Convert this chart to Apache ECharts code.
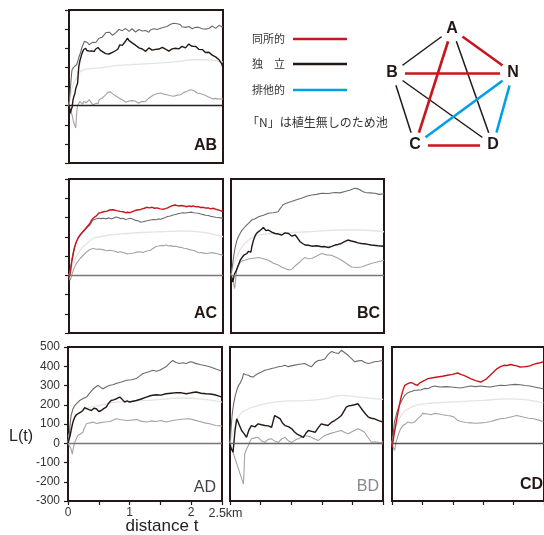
<!DOCTYPE html>
<html><head><meta charset="utf-8">
<script src="https://cdn.jsdelivr.net/npm/echarts@6/dist/echarts.min.js"></script>
<style>html,body{margin:0;padding:0;background:#fff}#c{width:544px;height:535px}</style>
</head><body><div id="c"></div>
<script>
// ---- data: [distance t (km), L(t)] ----
const AB_obs=[[0,0],[0.02,-40],[0.035,-22],[0.05,-10],[0.065,30],[0.08,49],[0.095,62],[0.11,90],[0.125,100],[0.14,118],[0.15,170],[0.16,205],[0.175,232],[0.19,250],[0.205,268],[0.22,275],[0.235,292],[0.25,290],[0.26,302],[0.27,300],[0.29,288],[0.31,296],[0.33,285],[0.35,292],[0.365,286],[0.38,280],[0.395,290],[0.41,283],[0.43,295],[0.45,292],[0.47,304],[0.49,300],[0.51,289],[0.53,290],[0.55,281],[0.57,283],[0.595,272],[0.62,276],[0.65,270],[0.68,266],[0.705,278],[0.73,275],[0.755,287],[0.78,283],[0.795,296],[0.81,305],[0.825,318],[0.84,327],[0.865,315],[0.89,320],[0.92,338],[0.95,353],[0.975,340],[1.0,336],[1.025,328],[1.05,325],[1.08,316],[1.11,310],[1.135,302],[1.16,305],[1.19,296],[1.22,300],[1.245,284],[1.27,290],[1.295,302],[1.32,300],[1.35,290],[1.38,296],[1.405,294],[1.43,287],[1.46,296],[1.49,292],[1.515,305],[1.54,300],[1.565,296],[1.59,300],[1.62,285],[1.65,288],[1.675,297],[1.70,292],[1.73,300],[1.76,305],[1.785,297],[1.81,300],[1.835,310],[1.86,306],[1.89,302],[1.92,310],[1.945,322],[1.97,318],[1.985,312],[2.0,315],[2.02,310],[2.04,305],[2.06,309],[2.08,300],[2.11,294],[2.14,290],[2.165,293],[2.19,283],[2.215,278],[2.24,288],[2.27,279],[2.30,275],[2.325,264],[2.35,268],[2.38,255],[2.41,249],[2.435,240],[2.46,235],[2.48,218],[2.5,197]];
const AB_up=[[0,0],[0.015,60],[0.03,120],[0.04,160],[0.05,188],[0.075,200],[0.10,205],[0.125,215],[0.15,240],[0.17,262],[0.19,280],[0.205,300],[0.22,310],[0.235,325],[0.25,336],[0.275,338],[0.30,330],[0.325,318],[0.35,322],[0.38,331],[0.41,327],[0.435,330],[0.46,340],[0.485,352],[0.51,362],[0.54,358],[0.57,370],[0.6,382],[0.625,375],[0.655,384],[0.68,379],[0.705,368],[0.73,372],[0.755,380],[0.78,388],[0.81,398],[0.84,405],[0.865,392],[0.89,395],[0.92,403],[0.95,397],[0.975,388],[1.0,392],[1.025,402],[1.05,398],[1.08,385],[1.11,388],[1.135,398],[1.16,395],[1.19,390],[1.22,397],[1.245,393],[1.27,390],[1.295,384],[1.32,395],[1.35,398],[1.38,402],[1.405,395],[1.43,398],[1.46,407],[1.49,405],[1.515,400],[1.54,410],[1.565,418],[1.59,414],[1.62,420],[1.65,425],[1.675,433],[1.70,431],[1.73,425],[1.76,428],[1.785,420],[1.81,423],[1.835,412],[1.86,415],[1.89,409],[1.92,405],[1.945,414],[1.97,410],[2.0,402],[2.03,397],[2.055,410],[2.08,405],[2.11,409],[2.14,414],[2.165,402],[2.19,406],[2.215,400],[2.24,397],[2.27,403],[2.30,405],[2.325,416],[2.35,414],[2.38,404],[2.41,410],[2.435,420],[2.46,418],[2.48,412],[2.5,414]];
const AB_mean=[[0,0],[0.04,80],[0.08,118],[0.14,153],[0.19,179],[0.3,192],[0.5,197],[0.8,210],[1.0,214],[1.3,220],[1.5,223],[1.8,232],[2.0,240],[2.2,240],[2.35,236],[2.5,228]];
const AB_low=[[0,0],[0.02,-15],[0.04,-40],[0.055,-55],[0.07,-80],[0.09,-100],[0.11,-117],[0.12,-60],[0.13,-20],[0.14,0],[0.15,10],[0.175,22],[0.2,20],[0.22,8],[0.24,23],[0.26,28],[0.28,15],[0.305,22],[0.33,31],[0.355,18],[0.38,10],[0.395,3],[0.41,0],[0.435,12],[0.46,20],[0.475,12],[0.49,31],[0.515,36],[0.54,40],[0.555,45],[0.57,49],[0.595,56],[0.62,60],[0.635,70],[0.65,75],[0.675,72],[0.7,68],[0.715,60],[0.73,57],[0.755,52],[0.78,50],[0.81,40],[0.84,31],[0.87,30],[0.9,22],[0.925,18],[0.95,14],[0.975,24],[1.0,18],[1.025,26],[1.05,31],[1.075,24],[1.1,20],[1.13,12],[1.16,14],[1.18,22],[1.2,25],[1.235,20],[1.27,31],[1.295,38],[1.32,45],[1.35,52],[1.38,57],[1.405,55],[1.43,62],[1.46,58],[1.49,66],[1.515,62],[1.54,60],[1.565,50],[1.59,57],[1.62,60],[1.65,52],[1.675,55],[1.70,49],[1.73,58],[1.76,55],[1.785,60],[1.81,57],[1.835,64],[1.86,68],[1.89,72],[1.92,75],[1.945,80],[1.97,83],[2.0,74],[2.03,78],[2.055,70],[2.08,66],[2.11,58],[2.14,62],[2.165,54],[2.19,57],[2.22,50],[2.25,48],[2.275,42],[2.3,40],[2.34,34],[2.38,38],[2.415,34],[2.45,36],[2.475,32],[2.5,35]];

const AC_obs=[[0,-10],[0.02,9],[0.045,70],[0.07,113],[0.095,150],[0.12,174],[0.15,195],[0.18,209],[0.205,220],[0.23,226],[0.255,238],[0.28,243],[0.31,258],[0.34,270],[0.365,285],[0.39,296],[0.42,304],[0.45,310],[0.465,318],[0.48,322],[0.52,325],[0.56,330],[0.59,328],[0.62,333],[0.64,337],[0.66,339],[0.69,334],[0.72,340],[0.745,337],[0.77,336],[0.80,328],[0.83,332],[0.855,326],[0.88,330],[0.915,325],[0.95,327],[0.97,321],[0.99,325],[1.02,330],[1.05,333],[1.075,336],[1.1,339],[1.145,340],[1.19,345],[1.225,348],[1.26,353],[1.305,350],[1.35,353],[1.39,348],[1.43,350],[1.48,345],[1.53,343],[1.565,346],[1.6,350],[1.62,355],[1.64,357],[1.68,362],[1.72,365],[1.77,360],[1.82,362],[1.845,358],[1.87,360],[1.91,356],[1.95,360],[1.985,357],[2.02,360],[2.06,355],[2.1,357],[2.14,352],[2.18,353],[2.22,349],[2.26,350],[2.3,345],[2.34,348],[2.38,343],[2.42,340],[2.46,336],[2.5,330]];
const AC_up=[[0,-10],[0.02,26],[0.045,80],[0.07,122],[0.095,152],[0.12,174],[0.15,193],[0.18,209],[0.22,222],[0.26,235],[0.3,250],[0.34,261],[0.365,276],[0.39,287],[0.435,292],[0.48,296],[0.52,294],[0.56,296],[0.605,293],[0.65,298],[0.685,293],[0.72,296],[0.76,302],[0.8,300],[0.84,294],[0.88,296],[0.915,290],[0.95,292],[0.975,297],[1.0,296],[1.025,293],[1.05,290],[1.085,285],[1.12,283],[1.16,276],[1.2,278],[1.235,281],[1.27,283],[1.32,287],[1.37,290],[1.41,288],[1.45,292],[1.49,291],[1.53,296],[1.565,300],[1.6,305],[1.645,308],[1.69,313],[1.73,316],[1.77,320],[1.81,322],[1.85,325],[1.895,323],[1.94,326],[1.98,328],[2.02,325],[2.06,323],[2.1,322],[2.14,318],[2.18,315],[2.22,312],[2.26,310],[2.3,306],[2.34,304],[2.38,301],[2.42,300],[2.46,298],[2.5,296]];
const AC_mean=[[0,0],[0.07,61],[0.18,130],[0.29,165],[0.39,191],[0.5,200],[0.66,209],[0.94,217],[1.2,222],[1.48,226],[1.85,230],[2.0,228],[2.18,223],[2.35,212],[2.5,200]];
const AC_low=[[0,-10],[0.02,-26],[0.045,2],[0.07,26],[0.095,46],[0.12,61],[0.15,75],[0.18,87],[0.22,100],[0.26,113],[0.3,125],[0.34,134],[0.365,131],[0.39,139],[0.42,133],[0.45,135],[0.475,131],[0.5,136],[0.53,130],[0.56,132],[0.61,127],[0.66,130],[0.705,127],[0.75,125],[0.79,118],[0.83,122],[0.86,116],[0.89,118],[0.94,111],[0.99,113],[1.02,112],[1.05,116],[1.1,120],[1.15,122],[1.2,118],[1.25,125],[1.285,127],[1.32,130],[1.37,140],[1.42,151],[1.46,152],[1.5,155],[1.54,153],[1.58,157],[1.615,152],[1.65,154],[1.695,150],[1.74,151],[1.78,146],[1.82,145],[1.865,140],[1.91,139],[1.955,133],[2.0,130],[2.035,127],[2.07,122],[2.11,117],[2.15,118],[2.19,115],[2.23,113],[2.28,116],[2.33,117],[2.37,115],[2.41,112],[2.455,107],[2.5,104]];

const BC_obs=[[0,0],[0.015,-15],[0.03,-35],[0.045,-10],[0.06,9],[0.08,20],[0.1,26],[0.125,55],[0.15,78],[0.18,92],[0.21,104],[0.235,96],[0.26,113],[0.285,124],[0.31,130],[0.325,120],[0.34,148],[0.37,185],[0.4,209],[0.425,220],[0.45,226],[0.49,236],[0.53,248],[0.57,232],[0.61,235],[0.665,224],[0.72,217],[0.775,214],[0.83,209],[0.885,220],[0.94,217],[0.995,203],[1.05,209],[1.09,192],[1.13,174],[1.17,165],[1.21,157],[1.265,156],[1.32,151],[1.4,153],[1.48,148],[1.535,149],[1.59,144],[1.645,150],[1.7,157],[1.75,160],[1.8,165],[1.855,175],[1.91,183],[1.965,178],[2.02,174],[2.075,168],[2.13,165],[2.21,162],[2.29,157],[2.4,153],[2.5,151]];
const BC_up=[[0,0],[0.02,43],[0.045,100],[0.07,148],[0.095,180],[0.12,200],[0.175,232],[0.23,252],[0.285,270],[0.34,287],[0.395,294],[0.45,304],[0.53,312],[0.61,322],[0.69,325],[0.77,330],[0.8,345],[0.83,357],[0.855,368],[0.88,374],[0.935,378],[0.99,383],[1.07,392],[1.15,400],[1.235,410],[1.32,417],[1.4,420],[1.48,426],[1.59,425],[1.7,430],[1.78,428],[1.86,435],[1.94,442],[2.02,452],[2.06,450],[2.1,445],[2.145,436],[2.19,430],[2.27,428],[2.35,426],[2.42,420],[2.5,423]];
const BC_mean=[[0,0],[0.07,78],[0.18,148],[0.29,183],[0.45,209],[0.72,217],[1.26,226],[1.81,235],[2.08,235],[2.5,226]];
const BC_low=[[0,0],[0.02,-9],[0.04,-40],[0.06,-70],[0.08,-10],[0.1,43],[0.125,60],[0.15,70],[0.19,76],[0.23,78],[0.285,84],[0.34,87],[0.395,90],[0.45,92],[0.53,86],[0.61,78],[0.695,62],[0.78,52],[0.83,42],[0.88,35],[0.935,28],[0.99,30],[1.045,48],[1.1,61],[1.155,80],[1.21,92],[1.265,86],[1.32,87],[1.4,100],[1.48,113],[1.56,106],[1.64,104],[1.725,92],[1.81,78],[1.89,60],[1.97,43],[2.05,40],[2.13,43],[2.21,52],[2.29,61],[2.4,70],[2.5,78]];

const AD_obs=[[0,0],[0.02,5],[0.035,40],[0.05,66],[0.08,110],[0.11,136],[0.135,148],[0.16,153],[0.2,160],[0.24,170],[0.27,185],[0.3,188],[0.34,175],[0.38,170],[0.42,182],[0.46,179],[0.5,165],[0.54,170],[0.58,180],[0.62,188],[0.66,208],[0.7,222],[0.74,225],[0.78,230],[0.81,236],[0.84,240],[0.88,228],[0.92,214],[0.96,220],[1.0,214],[1.055,218],[1.11,222],[1.19,230],[1.27,240],[1.35,248],[1.43,252],[1.51,250],[1.59,257],[1.675,260],[1.76,263],[1.84,262],[1.92,257],[2.0,262],[2.08,266],[2.16,260],[2.24,257],[2.31,256],[2.38,252],[2.44,246],[2.5,240]];
const AD_up=[[0,0],[0.02,40],[0.035,100],[0.05,144],[0.08,178],[0.11,196],[0.15,210],[0.19,222],[0.245,232],[0.3,240],[0.355,262],[0.41,283],[0.45,292],[0.49,301],[0.53,290],[0.57,283],[0.625,293],[0.68,301],[0.73,304],[0.78,310],[0.865,318],[0.95,327],[1.03,330],[1.11,336],[1.165,350],[1.22,362],[1.3,370],[1.38,379],[1.435,374],[1.49,379],[1.54,388],[1.59,397],[1.645,415],[1.7,430],[1.755,420],[1.81,414],[1.865,418],[1.92,414],[1.96,420],[2.0,423],[2.07,415],[2.14,409],[2.22,404],[2.3,397],[2.4,386],[2.5,374]];
const AD_mean=[[0,0],[0.05,83],[0.14,144],[0.3,179],[0.51,196],[0.78,214],[1.32,223],[1.86,235],[2.14,231],[2.5,214]];
const AD_low=[[0,0],[0.03,5],[0.05,-30],[0.07,-56],[0.09,-20],[0.11,5],[0.135,25],[0.16,40],[0.2,48],[0.24,57],[0.27,82],[0.3,101],[0.355,106],[0.41,110],[0.46,103],[0.51,106],[0.595,110],[0.68,113],[0.73,120],[0.78,127],[0.865,122],[0.95,118],[1.03,120],[1.11,123],[1.19,115],[1.27,110],[1.35,116],[1.43,113],[1.51,118],[1.59,110],[1.7,118],[1.81,123],[1.89,126],[1.97,127],[2.055,120],[2.14,113],[2.22,106],[2.3,101],[2.4,92],[2.5,89]];

const BD_obs=[[0,0],[0.01,-21],[0.03,-30],[0.05,-47],[0.08,60],[0.11,127],[0.15,96],[0.19,66],[0.23,50],[0.27,31],[0.31,70],[0.35,92],[0.405,85],[0.46,101],[0.515,96],[0.57,92],[0.625,90],[0.68,83],[0.705,115],[0.73,144],[0.775,136],[0.82,127],[0.86,104],[0.9,92],[0.955,86],[1.01,75],[1.05,60],[1.09,49],[1.145,40],[1.2,31],[1.24,52],[1.28,66],[1.335,62],[1.39,57],[1.44,80],[1.49,101],[1.545,96],[1.6,92],[1.655,108],[1.71,118],[1.765,130],[1.82,144],[1.86,166],[1.9,188],[1.94,194],[1.98,196],[2.035,200],[2.09,205],[2.13,188],[2.17,170],[2.215,152],[2.26,136],[2.31,130],[2.36,127],[2.43,118],[2.5,110]];
const BD_up=[[0,0],[0.01,40],[0.025,110],[0.04,162],[0.06,205],[0.08,240],[0.11,275],[0.14,301],[0.165,312],[0.19,318],[0.205,340],[0.22,362],[0.26,356],[0.3,353],[0.34,346],[0.38,344],[0.42,355],[0.46,362],[0.515,370],[0.57,379],[0.625,383],[0.68,388],[0.735,392],[0.79,397],[0.845,400],[0.9,405],[0.95,398],[1.0,402],[1.055,406],[1.11,409],[1.165,412],[1.22,414],[1.275,405],[1.33,397],[1.385,418],[1.44,430],[1.495,432],[1.55,438],[1.6,460],[1.66,477],[1.715,470],[1.77,466],[1.8,475],[1.82,483],[1.875,470],[1.93,457],[1.985,440],[2.04,423],[2.095,428],[2.15,430],[2.205,420],[2.26,414],[2.31,418],[2.36,423],[2.43,426],[2.5,431]];
const BD_mean=[[0,0],[0.05,57],[0.14,136],[0.24,170],[0.46,196],[0.73,214],[1.28,223],[1.55,231],[1.82,249],[2.09,240],[2.5,228]];
const BD_low=[[0,0],[0.01,-3],[0.22,-212],[0.23,-140],[0.24,-56],[0.27,-30],[0.3,-12],[0.325,8],[0.35,23],[0.405,28],[0.46,31],[0.515,12],[0.57,5],[0.625,20],[0.68,23],[0.735,10],[0.79,5],[0.845,22],[0.9,31],[0.955,12],[1.01,5],[1.06,15],[1.11,23],[1.165,30],[1.22,40],[1.275,36],[1.33,31],[1.385,22],[1.44,14],[1.495,28],[1.55,40],[1.63,50],[1.71,57],[1.765,62],[1.82,66],[1.875,56],[1.93,49],[2.01,62],[2.09,75],[2.145,68],[2.2,57],[2.255,30],[2.31,5],[2.365,8],[2.42,5],[2.46,0],[2.5,9]];

const CD_obs=[[0,-21],[0.02,15],[0.04,57],[0.07,110],[0.1,162],[0.125,205],[0.15,240],[0.18,275],[0.21,301],[0.235,308],[0.26,310],[0.3,315],[0.34,313],[0.38,305],[0.42,301],[0.45,312],[0.48,318],[0.535,326],[0.59,336],[0.67,340],[0.75,344],[0.83,348],[0.91,353],[0.995,358],[1.08,365],[1.13,358],[1.18,353],[1.235,345],[1.29,336],[1.375,325],[1.46,318],[1.51,326],[1.56,336],[1.645,362],[1.73,388],[1.785,398],[1.84,405],[1.895,404],[1.95,409],[2.0,405],[2.05,402],[2.105,396],[2.16,397],[2.215,399],[2.27,402],[2.325,410],[2.38,414],[2.435,418],[2.49,423]];
const CD_up=[[0,-12],[0.02,50],[0.04,110],[0.08,160],[0.12,196],[0.165,225],[0.21,249],[0.25,260],[0.29,266],[0.33,270],[0.37,275],[0.425,276],[0.48,278],[0.535,285],[0.59,283],[0.645,292],[0.7,297],[0.75,294],[0.8,292],[0.885,294],[0.97,292],[1.05,290],[1.13,287],[1.21,292],[1.29,297],[1.375,294],[1.46,297],[1.54,294],[1.62,292],[1.7,297],[1.78,301],[1.865,300],[1.95,304],[2.03,306],[2.11,304],[2.19,300],[2.27,297],[2.38,290],[2.49,283]];
const CD_mean=[[0,0],[0.04,57],[0.15,144],[0.32,188],[0.53,205],[0.97,214],[1.51,223],[1.95,231],[2.27,223],[2.49,210]];
const CD_low=[[0,-3],[0.02,-20],[0.04,-38],[0.07,10],[0.1,40],[0.14,75],[0.18,92],[0.22,100],[0.26,110],[0.315,105],[0.37,110],[0.425,128],[0.48,144],[0.505,155],[0.53,162],[0.585,152],[0.64,148],[0.695,155],[0.75,153],[0.83,148],[0.91,144],[0.965,142],[1.02,136],[1.075,120],[1.13,113],[1.21,108],[1.29,106],[1.375,104],[1.46,106],[1.54,108],[1.62,113],[1.7,120],[1.78,127],[1.865,130],[1.95,136],[2.0,140],[2.05,144],[2.105,140],[2.16,136],[2.245,130],[2.33,127],[2.41,120],[2.49,113]];

const xTickValues=[0,0.5,1,1.5,2,2.5];
const xTickLabels=['0','','1','','2','2.5km'];
const yTickValues=[-300,-200,-100,0,100,200,300,400,500];
const yTickLabels=['-300','-200','-100','0','100','200','300','400','500'];

const relNames=['同所的','独　立','排他的'];
const pondNote='「N」は植生無しのため池';
const nodeNames=['A','B','N','C','D'];
const links=[['A','B',1],['A','D',1],['B','C',1],['B','D',1],['A','N',0],['B','N',0],['A','C',0],['C','D',0],['N','C',2],['N','D',2]];

// ---- layout / style ----
const RED='#c8161e', BLK='#231815', BLUE='#00a0e9';
const relColors=[RED,BLK,BLUE];
const panels=[
 {name:'AB',obs:AB_obs,up:AB_up,mean:AB_mean,low:AB_low,obsColor:BLK,g:[69,10,154,153],yt:true,xt:false,lab:[217,145.5],bold:true,lc:BLK,zc:'#222'},
 {name:'AC',obs:AC_obs,up:AC_up,mean:AC_mean,low:AC_low,obsColor:RED,g:[69,179,154,154],yt:true,xt:false,lab:[217,314],bold:true,lc:BLK,zc:'#777'},
 {name:'BC',obs:BC_obs,up:BC_up,mean:BC_mean,low:BC_low,obsColor:BLK,g:[231,179,153,154],yt:false,xt:false,lab:[380,314],bold:true,lc:BLK,zc:'#777'},
 {name:'AD',obs:AD_obs,up:AD_up,mean:AD_mean,low:AD_low,obsColor:BLK,g:[68,347,154,154],yt:true,xt:true,lab:[216,488],bold:false,lc:'#444',zc:'#777',labels:true},
 {name:'BD',obs:BD_obs,up:BD_up,mean:BD_mean,low:BD_low,obsColor:BLK,g:[230,347,153,154],yt:false,xt:true,lab:[379,487],bold:false,lc:'#888',zc:'#666'},
 {name:'CD',obs:CD_obs,up:CD_up,mean:CD_mean,low:CD_low,obsColor:RED,g:[392,347,154,154],yt:false,xt:true,lab:[543,485],bold:true,lc:BLK,zc:'#555'}
];
const FONT='"Liberation Sans", Arial, sans-serif';
const JFONT='"Noto Sans CJK JP", sans-serif';

const grid=[],xAxis=[],yAxis=[],series=[],graphic=[];
panels.forEach((p,i)=>{
  grid.push({left:p.g[0],top:p.g[1],width:p.g[2],height:p.g[3],show:true,borderColor:BLK,borderWidth:2,backgroundColor:'transparent'});
  xAxis.push({type:'value',gridIndex:i,min:0,max:2.5,interval:0.5,splitLine:{show:false},
    axisLine:{show:p.xt,onZero:false,lineStyle:{color:BLK,width:2}},
    axisTick:{show:p.xt,length:4,inside:false,lineStyle:{color:BLK,width:1.2}},
    axisLabel:{show:!!p.labels,color:'#333',fontFamily:FONT,fontSize:12,margin:6,hideOverlap:false,showMaxLabel:true,showMinLabel:true,
      formatter:v=>{const k=xTickValues.findIndex(t=>Math.abs(t-v)<1e-6);const s=k>=0?xTickLabels[k]:'';return s==='2.5km'?'{k|'+s+'}':s;},
      rich:{k:{fontFamily:FONT,fontSize:12.5,color:'#333',padding:[0,0,0,7]}}}});
  yAxis.push({type:'value',gridIndex:i,min:-300,max:500,interval:100,splitLine:{show:false},
    axisLine:{show:p.yt,onZero:false,lineStyle:{color:BLK,width:2}},
    axisTick:{show:p.yt,length:4,inside:false,lineStyle:{color:BLK,width:1.2}},
    axisLabel:{show:!!p.labels,color:'#333',fontFamily:FONT,fontSize:12,margin:8,
      formatter:v=>{const k=yTickValues.indexOf(v);return k>=0?yTickLabels[k]:'';}}});
  const base={type:'line',xAxisIndex:i,yAxisIndex:i,symbol:'none',showSymbol:false,silent:true,animation:false,clip:true};
  series.push(Object.assign({},base,{name:p.name+' mean',data:p.mean,smooth:true,lineStyle:{color:'#e4e4e4',width:1.3},z:2,
    markLine:{silent:true,symbol:'none',animation:false,label:{show:false},lineStyle:{color:p.zc,width:1.3,type:'solid'},data:[{yAxis:0}]}}));
  series.push(Object.assign({},base,{name:p.name+' low',data:p.low,lineStyle:{color:'#a3a3a3',width:1.1},z:3}));
  series.push(Object.assign({},base,{name:p.name+' up',data:p.up,lineStyle:{color:'#6b6b6b',width:1.1},z:3}));
  series.push(Object.assign({},base,{name:p.name+' obs',data:p.obs,lineStyle:{color:p.obsColor,width:1.4},z:4}));
  graphic.push({type:'text',x:p.lab[0],y:p.lab[1],silent:true,z:10,style:{text:p.name,fill:p.lc,font:(p.bold?'bold ':'')+'16px '+FONT,textAlign:'right',textVerticalAlign:'middle'}});
});

// axis titles
graphic.push({type:'text',x:21,y:437,silent:true,style:{text:'L(t)',fill:'#222',font:'16px '+FONT,textAlign:'center',textVerticalAlign:'middle'}});
graphic.push({type:'text',x:162,y:526,silent:true,style:{text:'distance t',fill:'#222',font:'17px '+FONT,textAlign:'center',textVerticalAlign:'middle'}});

// legend of relations
const legY=[39,64,90];
relNames.forEach((n,i)=>{
  graphic.push({type:'text',x:252,y:legY[i],silent:true,style:{text:n,fill:'#333',font:'11px '+JFONT,textVerticalAlign:'middle'}});
  graphic.push({type:'line',silent:true,shape:{x1:293,y1:legY[i],x2:347,y2:legY[i]},style:{stroke:relColors[i],lineWidth:2.5}});
});
graphic.push({type:'text',x:247,y:122,silent:true,style:{text:pondNote,fill:'#333',font:'12px '+JFONT,textVerticalAlign:'middle'}});

// network diagram
const nodePos={A:[452,29],B:[392,73],N:[513,73],C:[415,145],D:[493,145]};
series.push({type:'graph',layout:'none',left:392,top:29,width:121,height:116,silent:true,animation:false,z:5,
  symbol:'circle',symbolSize:26,itemStyle:{color:'#fff',borderWidth:0},
  label:{show:true,position:'inside',color:BLK,fontFamily:FONT,fontWeight:'bold',fontSize:16},
  data:nodeNames.map(n=>({name:n,x:nodePos[n][0],y:nodePos[n][1]})),
  links:links.map(l=>({source:l[0],target:l[1],lineStyle:{color:relColors[l[2]],width:l[2]===1?1.5:2.6,curveness:0,opacity:1}})),
  emphasis:{disabled:true}});

const chart=echarts.init(document.getElementById('c'),null,{renderer:'canvas'});
chart.setOption({animation:false,grid,xAxis,yAxis,series,graphic});
</script></body></html>
